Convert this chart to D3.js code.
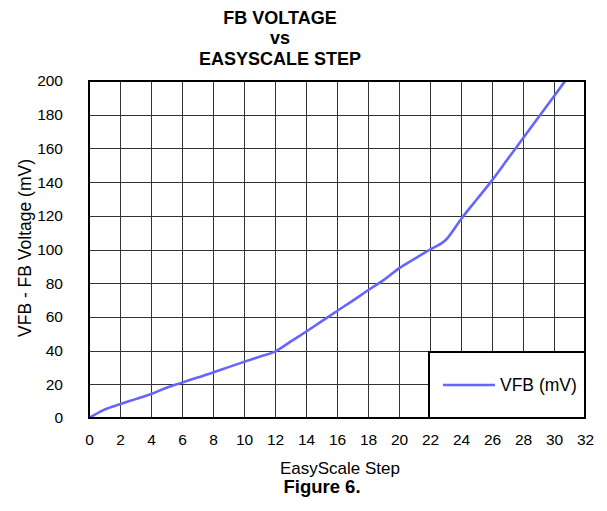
<!DOCTYPE html>
<html>
<head>
<meta charset="utf-8">
<script src="https://cdn.jsdelivr.net/npm/d3@7"></script>
<style>
  body { margin: 0; background: #fff; }
  svg { display: block; font-family: "Liberation Sans", Arial, sans-serif; }
</style>
</head>
<body>
<svg id="chart" width="607" height="511"></svg>
<script>
const titleLines = ["FB VOLTAGE", "vs", "EASYSCALE STEP"];
const xLabel = "EasyScale Step";
const yLabel = "VFB - FB Voltage (mV)";
const figureLabel = "Figure 6.";
const seriesName = "VFB (mV)";
const steps = [0,1,2,3,4,5,6,7,8,9,10,11,12,13,14,15,16,17,18,19,20,21,22,23,24,25,26,27,28,29,30,31];
const vfb = [0,5,8.2,11.2,14.2,18,21,24,27,30.2,33.3,36.3,39.4,45.3,51.2,57.3,63.5,69.5,75.8,81.8,88.8,94.5,100,105.5,118,129.5,141,153.5,166,178.5,191,203.5];
const xTicks = [0,2,4,6,8,10,12,14,16,18,20,22,24,26,28,30,32];
const yTicks = [0,20,40,60,80,100,120,140,160,180,200];

const svg = d3.select("#chart");
const L = 89, R = 585, T = 81, B = 418;
const x = d3.scaleLinear().domain([0, 32]).range([L, R]);
const y = d3.scaleLinear().domain([0, 200]).range([B, T]);

// title
svg.append("g").selectAll("text").data(titleLines).join("text")
  .attr("x", 280).attr("y", (d, i) => [24, 44, 65][i])
  .attr("text-anchor", "middle").attr("font-weight", "bold").attr("font-size", 18)
  .text(d => d);

// grid
const grid = svg.append("g").attr("stroke", "#333").attr("stroke-width", 1);
grid.selectAll("line.v").data(xTicks.slice(1, -1)).join("line")
  .attr("x1", d => Math.round(x(d)) + 0.5).attr("x2", d => Math.round(x(d)) + 0.5)
  .attr("y1", T).attr("y2", B);
grid.selectAll("line.h").data(yTicks.slice(1, -1)).join("line")
  .attr("y1", d => Math.round(y(d)) + 0.5).attr("y2", d => Math.round(y(d)) + 0.5)
  .attr("x1", L).attr("x2", R);

// axes (labels only)
const xAxis = svg.append("g").attr("transform", `translate(0,${B})`)
  .call(d3.axisBottom(x).tickValues(xTicks).tickSize(0).tickPadding(16));
xAxis.select(".domain").remove();
xAxis.selectAll("text").attr("font-size", 15.5).attr("font-family", "Liberation Sans, Arial, sans-serif").attr("fill", "#000");

const yAxis = svg.append("g").attr("transform", `translate(${L},0)`)
  .call(d3.axisLeft(y).tickValues(yTicks).tickSize(0).tickPadding(26));
yAxis.select(".domain").remove();
yAxis.selectAll("text").attr("font-size", 15.5).attr("font-family", "Liberation Sans, Arial, sans-serif").attr("fill", "#000");

// clip
svg.append("clipPath").attr("id", "clip").append("rect")
  .attr("x", L).attr("y", T).attr("width", R - L).attr("height", B - T);

const line = d3.line().x((d, i) => x(steps[i])).y(d => y(d)).curve(d3.curveMonotoneX);
svg.append("path").datum(vfb).attr("clip-path", "url(#clip)")
  .attr("fill", "none").attr("stroke", "#6666ff").attr("stroke-width", 2.6)
  .attr("stroke-linejoin", "round").attr("d", line);

// frame
svg.append("rect").attr("x", L).attr("y", T).attr("width", R - L).attr("height", B - T)
  .attr("fill", "none").attr("stroke", "#000").attr("stroke-width", 2);

// legend
const lg = svg.append("g");
lg.append("rect").attr("x", 429).attr("y", 352).attr("width", R - 429).attr("height", B - 352)
  .attr("fill", "#fff").attr("stroke", "#000").attr("stroke-width", 2);
lg.append("line").attr("x1", 443).attr("x2", 495).attr("y1", 385).attr("y2", 385)
  .attr("stroke", "#6666ff").attr("stroke-width", 2.6);
lg.append("text").attr("x", 500).attr("y", 391).attr("font-size", 17.5).text(seriesName);

// axis titles
svg.append("text").attr("x", 340).attr("y", 474).attr("text-anchor", "middle")
  .attr("font-size", 17).text(xLabel);
svg.append("text").attr("transform", "translate(31,248) rotate(-90)").attr("text-anchor", "middle")
  .attr("font-size", 17.5).text(yLabel);
svg.append("text").attr("x", 322).attr("y", 493).attr("text-anchor", "middle")
  .attr("font-weight", "bold").attr("font-size", 18.5).text(figureLabel);
</script>
</body>
</html>
